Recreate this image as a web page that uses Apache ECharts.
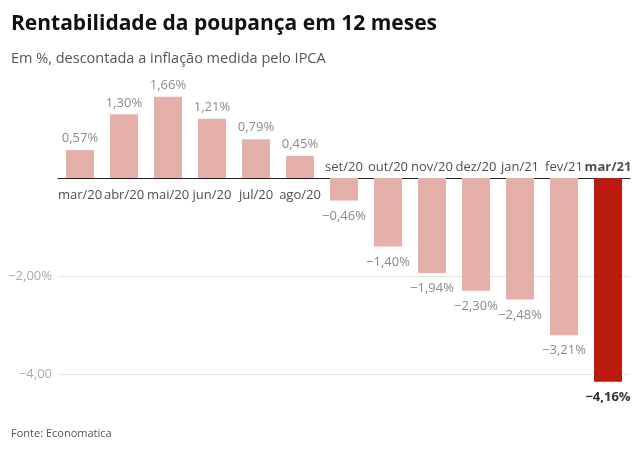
<!DOCTYPE html>
<html><head><meta charset="utf-8">
<script src="https://cdn.jsdelivr.net/npm/echarts@6/dist/echarts.min.js"></script>
<style>html,body{margin:0;padding:0;background:#fff}#c{width:640px;height:457px}</style>
</head><body><div id="c"></div>
<script>
var categories = ['mar/20','abr/20','mai/20','jun/20','jul/20','ago/20','set/20','out/20','nov/20','dez/20','jan/21','fev/21','mar/21'];
var values = [0.57,1.30,1.66,1.21,0.79,0.45,-0.46,-1.40,-1.94,-2.30,-2.48,-3.21,-4.16];
var yTickLabels = {'-2':'\u22122,00%','-4':'\u22124,00'};

function fmt(v){ var s = Math.abs(v).toFixed(2).replace('.', ',') + '%'; return (v<0?'\u2212':'') + s; }
var F = '"Open Sans", "Noto Sans", sans-serif';
var last = values.length-1;

var barData = values.map(function(v,i){
  var hl = i===last;
  return {value:v, itemStyle:{color: hl ? '#b91c0e' : '#e5afaa'},
    label:{show:true, position: v>=0?'top':'bottom', distance: v>=0?5:9,
      formatter: fmt(v), color: hl ? '#333' : '#8a8a8a', fontWeight: hl?'bold':'normal',
      fontSize: 13, fontFamily: F}};
});
var catData = values.map(function(v,i){
  var hl = i===last;
  return {value:0, label:{show:true, position: v>=0?'bottom':'top', distance: v>=0?11:4,
    formatter: categories[i], color:'#222', fontWeight: hl?'bold':'normal', fontSize: 13, fontFamily: F}};
});

var chart = echarts.init(document.getElementById('c'), null, {renderer:'canvas'});
chart.setOption({
  animation:false,
  backgroundColor:'#fff',
  title:[
    {text:'Rentabilidade da poupança em 12 meses', left:6, top:9,
     textStyle:{fontFamily:F, fontWeight:'bold', fontSize:21, color:'#111'}},
    {text:'Em %, descontada a inflação medida pelo IPCA', left:6, top:46,
     textStyle:{fontFamily:F, fontWeight:'normal', fontSize:14.5, color:'#555'}},
    {text:'Fonte: Economatica', left:6, top:423,
     textStyle:{fontFamily:F, fontWeight:'normal', fontSize:11, color:'#555'}}
  ],
  grid:{left:58, right:10, top:80, height:392, containLabel:false, outerBoundsMode:'none'},
  xAxis:{type:'category', data:categories, position:'bottom',
    axisLine:{show:true, onZero:true, lineStyle:{color:'#222', width:1}},
    axisTick:{show:false}, axisLabel:{show:false}},
  yAxis:{type:'value', min:-6, max:2, interval:2,
    axisLine:{show:false}, axisTick:{show:false},
    axisLabel:{color:'#aaa', fontSize:13, fontFamily:F, margin:6,
      formatter:function(v){ return yTickLabels[String(v)] || ''; }},
    splitLine:{show:true, lineStyle:{color:['#e6e6e6','#e6e6e6','#e6e6e6','#e6e6e6','rgba(0,0,0,0)'], width:1}}},
  series:[
    {type:'bar', data:barData, barWidth:28, z:2},
    {type:'scatter', data:catData, symbolSize:0, z:3, silent:true}
  ]
});
</script></body></html>
